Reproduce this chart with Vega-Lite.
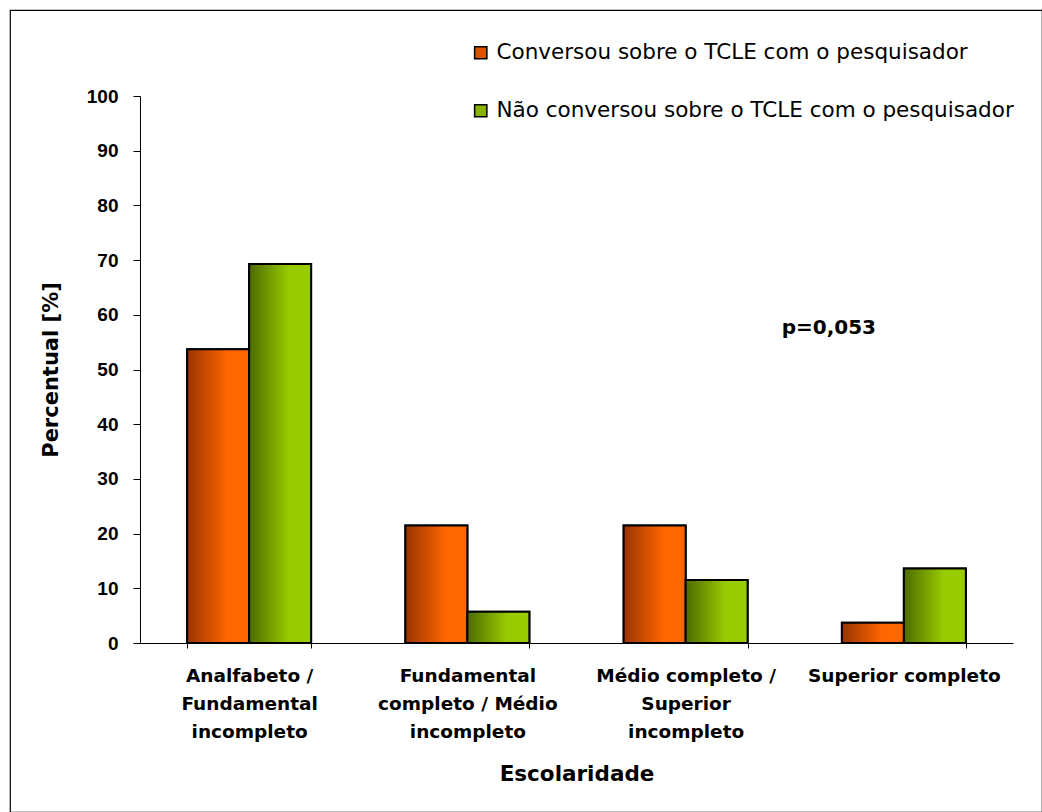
{
  "$schema": "https://vega.github.io/schema/vega-lite/v6.json",
  "autosize": "none",
  "padding": {"left": 10, "top": 10, "right": 0, "bottom": 0},
  "width": 1032,
  "height": 802,
  "background": "white",
  "config": {
    "font": "DejaVu Sans",
    "view": {"stroke": "#000000", "strokeWidth": 1.2},
    "axis": {"domainColor": "#000000", "tickColor": "#000000", "labelColor": "#000000", "titleColor": "#000000", "grid": false}
  },
  "data": {
    "values": [
      {"escolaridade": "Analfabeto / Fundamental incompleto", "serie": "Conversou sobre o TCLE com o pesquisador", "percentual": 53.7},
      {"escolaridade": "Analfabeto / Fundamental incompleto", "serie": "Não conversou sobre o TCLE com o pesquisador", "percentual": 69.3},
      {"escolaridade": "Fundamental completo / Médio incompleto", "serie": "Conversou sobre o TCLE com o pesquisador", "percentual": 21.5},
      {"escolaridade": "Fundamental completo / Médio incompleto", "serie": "Não conversou sobre o TCLE com o pesquisador", "percentual": 5.7},
      {"escolaridade": "Médio completo / Superior incompleto", "serie": "Conversou sobre o TCLE com o pesquisador", "percentual": 21.5},
      {"escolaridade": "Médio completo / Superior incompleto", "serie": "Não conversou sobre o TCLE com o pesquisador", "percentual": 11.5},
      {"escolaridade": "Superior completo", "serie": "Conversou sobre o TCLE com o pesquisador", "percentual": 3.7},
      {"escolaridade": "Superior completo", "serie": "Não conversou sobre o TCLE com o pesquisador", "percentual": 13.6}
    ]
  },
  "encoding": {
    "x": {
      "field": "escolaridade",
      "type": "nominal",
      "sort": null,
      "scale": {"range": [130, 1003], "paddingInner": 0.432, "paddingOuter": 0.216},
      "axis": {
        "offset": -169,
        "title": "Escolaridade",
        "titleFontSize": 21.5,
        "titleFontWeight": "bold",
        "titlePadding": 23,
        "labelAngle": 0,
        "labelFontSize": 18.5,
        "labelFontWeight": "bold",
        "labelLineHeight": 28,
        "labelPadding": 18,
        "labelBaseline": "top",
        "labelLimit": 0,
        "tickBand": "extent",
        "tickSize": 5,
        "labelExpr": "datum.value == 'Analfabeto / Fundamental incompleto' ? ['Analfabeto /', 'Fundamental', 'incompleto'] : datum.value == 'Fundamental completo / Médio incompleto' ? ['Fundamental', 'completo / Médio', 'incompleto'] : datum.value == 'Médio completo / Superior incompleto' ? ['Médio completo /', 'Superior', 'incompleto'] : datum.value"
      }
    },
    "y": {
      "field": "percentual",
      "type": "quantitative",
      "scale": {"domain": [0, 100], "range": [633, 86], "nice": false},
      "axis": {
        "offset": -130,
        "title": "Percentual [%]",
        "titleFontSize": 21,
        "titleFontWeight": "bold",
        "titlePadding": 25,
        "values": [0, 10, 20, 30, 40, 50, 60, 70, 80, 90, 100],
        "labelFont": "Liberation Sans",
        "labelFontSize": 19,
        "labelFontWeight": "bold",
        "labelPadding": 15,
        "tickSize": 7
      }
    }
  },
  "layer": [
    {
      "mark": {"type": "bar", "stroke": "#000000", "strokeWidth": 2},
      "encoding": {
        "xOffset": {"field": "serie", "type": "nominal", "scale": {"paddingInner": 0, "paddingOuter": 0}},
        "fill": {
          "field": "serie",
          "type": "nominal",
          "scale": {"domain": ["Conversou sobre o TCLE com o pesquisador", "Não conversou sobre o TCLE com o pesquisador"], "range": ["#d85500", "#88b400"]},
          "legend": {
            "title": null,
            "orient": "none",
            "legendX": 460,
            "legendY": 32,
            "padding": 0,
            "symbolType": "square",
            "symbolSize": 150,
            "symbolStrokeColor": "#000000",
            "symbolStrokeWidth": 1.5,
            "labelFont": "DejaVu Sans",
            "labelFontSize": 21.5,
            "labelColor": "#000000",
            "labelOffset": 5,
            "labelLimit": 0,
            "rowPadding": 35
          }
        }
      }
    },
    {
      "mark": {"type": "bar", "stroke": "#000000", "strokeWidth": 2},
      "encoding": {
        "xOffset": {"field": "serie", "type": "nominal"},
        "fill": {
          "condition": {
            "test": "datum.serie === 'Conversou sobre o TCLE com o pesquisador'",
            "value": {"gradient": "linear", "x1": 0, "y1": 0, "x2": 1, "y2": 0, "stops": [{"offset": 0, "color": "#993300"}, {"offset": 0.65, "color": "#ff6600"}, {"offset": 1, "color": "#ff6600"}]}
          },
          "value": {"gradient": "linear", "x1": 0, "y1": 0, "x2": 1, "y2": 0, "stops": [{"offset": 0, "color": "#4d6b00"}, {"offset": 0.65, "color": "#99cc00"}, {"offset": 1, "color": "#99cc00"}]}
        }
      }
    },
    {
      "data": {"values": [{"escolaridade": "Superior completo", "percentual": 57.6, "rotulo": "p=0,053"}]},
      "mark": {"type": "text", "fontSize": 20, "fontWeight": "bold", "color": "#000000", "align": "center", "baseline": "middle", "dx": -75},
      "encoding": {
        "text": {"field": "rotulo", "type": "nominal"}
      }
    }
  ]
}
